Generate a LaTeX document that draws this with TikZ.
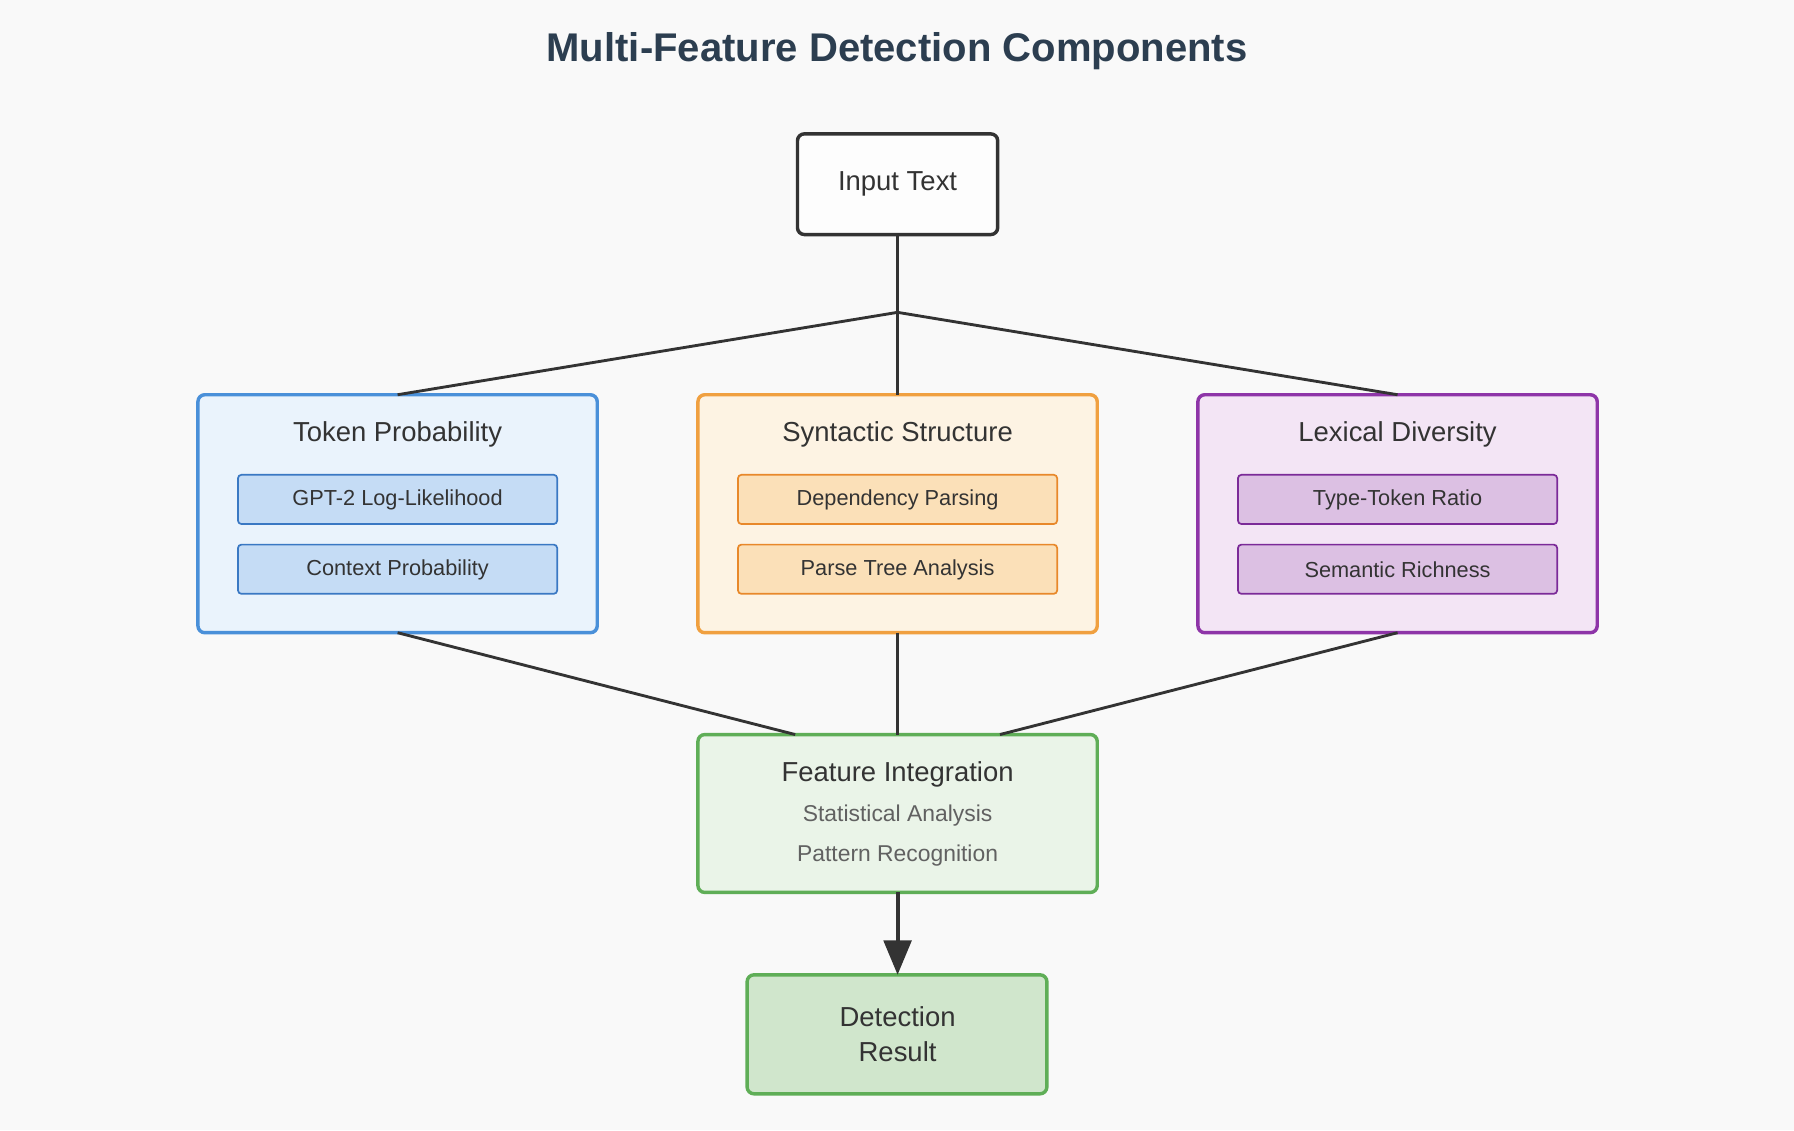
\documentclass[tikz,border=0pt]{standalone}
\usepackage{fontspec}
\setmainfont{Liberation Sans}
\usetikzlibrary{arrows.meta}
\definecolor{bg}{HTML}{F9F9F9}
\definecolor{ttl}{HTML}{2C3E50}
\definecolor{tkf}{HTML}{EAF3FC}\definecolor{tkd}{HTML}{4A90D9}
\definecolor{tksf}{HTML}{C5DCF5}\definecolor{tksd}{HTML}{3A78C3}
\definecolor{syf}{HTML}{FDF3E3}\definecolor{syd}{HTML}{F0A040}
\definecolor{sysf}{HTML}{FBE0B8}\definecolor{sysd}{HTML}{E8882A}
\definecolor{lxf}{HTML}{F3E5F5}\definecolor{lxd}{HTML}{8E35A8}
\definecolor{lxsf}{HTML}{DCC0E3}\definecolor{lxsd}{HTML}{7B2A98}
\definecolor{fif}{HTML}{EAF4E8}\definecolor{fid}{HTML}{5FAE57}
\definecolor{drf}{HTML}{D0E6CC}
\definecolor{ink}{HTML}{333333}
\begin{document}
\begin{tikzpicture}[x=1pt,y=-1pt,
  big/.style={draw,line width=3pt,rounded corners=6pt},
  sub/.style={draw,line width=1.5pt,rounded corners=3pt},
  conn/.style={draw=ink,line width=2.5pt},
  t22/.style={font=\fontsize{24}{28}\selectfont,text=ink},
  t18/.style={font=\fontsize{19}{22}\selectfont,text=ink},
  tg/.style={font=\fontsize{20}{24}\selectfont,text=black!62}]
\fill[bg] (0,0) rectangle (1568,988);
\useasboundingbox (0,0) rectangle (1568,988);
\node[font=\bfseries\fontsize{35}{40}\selectfont,text=ttl] (title) at (784,45) {Multi-Feature Detection Components};
% input
\draw[big,draw=ink,fill=white!60!bg] (697,117) rectangle (872,205);
\node[t22] (in) at (784.5,161) {Input Text};
\coordinate (inb) at (784.5,205);
\coordinate (j) at (784.5,273);
% boxes
\draw[big,draw=tkd,fill=tkf] (173,345) rectangle (522,553);
\draw[big,draw=syd,fill=syf] (610,345) rectangle (959,553);
\draw[big,draw=lxd,fill=lxf] (1047,345) rectangle (1396,553);
\node[t22] (tk) at (347.5,380) {Token Probability};
\node[t22] (sy) at (784.5,380) {Syntactic Structure};
\node[t22] (lx) at (1221.5,380) {Lexical Diversity};
\draw[sub,draw=tksd,fill=tksf] (208,415) rectangle (487,458);
\draw[sub,draw=tksd,fill=tksf] (208,476) rectangle (487,519);
\draw[sub,draw=sysd,fill=sysf] (645,415) rectangle (924,458);
\draw[sub,draw=sysd,fill=sysf] (645,476) rectangle (924,519);
\draw[sub,draw=lxsd,fill=lxsf] (1082,415) rectangle (1361,458);
\draw[sub,draw=lxsd,fill=lxsf] (1082,476) rectangle (1361,519);
\node[t18] (tk1) at (347.5,437) {GPT-2 Log-Likelihood};
\node[t18] (tk2) at (347.5,498) {Context Probability};
\node[t18] (sy1) at (784.5,437) {Dependency Parsing};
\node[t18] (sy2) at (784.5,498) {Parse Tree Analysis};
\node[t18] (lx1) at (1221.5,437) {Type-Token Ratio};
\node[t18] (lx2) at (1221.5,498) {Semantic Richness};
\coordinate (tkt) at (347.5,345); \coordinate (syt) at (784.5,345); \coordinate (lxt) at (1221.5,345);
\coordinate (tkb) at (347.5,553); \coordinate (syb) at (784.5,553); \coordinate (lxb) at (1221.5,553);
% feature integration
\draw[big,draw=fid,fill=fif] (610,642) rectangle (959,780);
\node[t22] (fi) at (784.5,677) {Feature Integration};
\node[tg] (fi1) at (784.5,713) {Statistical Analysis};
\node[tg] (fi2) at (784.5,748) {Pattern Recognition};
\coordinate (fil) at (695,642); \coordinate (fit) at (784.5,642); \coordinate (fir) at (874,642);
\coordinate (fib) at (784.5,780);
% result
\draw[big,draw=fid,fill=drf] (653,852) rectangle (915,956);
\node[t22,align=center] (dr) at (784.5,904) {Detection\\[2pt]Result};
\coordinate (drt) at (784.5,852);
% connectors
\draw[conn] (inb) -- (j);
\draw[conn] (j) -- (tkt);
\draw[conn] (j) -- (syt);
\draw[conn] (j) -- (lxt);
\draw[conn] (tkb) -- (fil);
\draw[conn] (syb) -- (fit);
\draw[conn] (lxb) -- (fir);
\draw[draw=ink,line width=3.5pt,-{Triangle[length=30pt,width=24pt]}] (fib) -- (drt);
\end{tikzpicture}
\end{document}
